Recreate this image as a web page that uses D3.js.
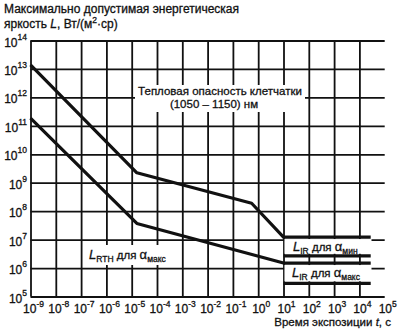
<!DOCTYPE html>
<html><head><meta charset="utf-8">
<script src="https://cdn.jsdelivr.net/npm/d3@7"></script>
<style>
html,body{margin:0;padding:0;background:#fff;}
svg{display:block;font-family:"Liberation Sans",Arial,sans-serif;}
svg text{stroke:#111;stroke-width:0.3px;}
</style></head>
<body><svg id="c" width="400" height="330"></svg>
<script>
// ---- data ----
const xTickExps = [-9,-8,-7,-6,-5,-4,-3,-2,-1,0,1,2,3,4,5];
const yTickExps = [5,6,7,8,9,10,11,12,13,14];
// Retinal thermal hazard (1050-1150 nm), upper curve
const upperT = [1e-9, 1.6e-5, 0.55, 10, 2.8e4];
const upperL = [1.38e13, 2.24e9, 1.9e8, 1.23e7, 1.23e7];
// L_RTH for alpha_max, lower curve
const lowerT = [1e-9, 1.6e-5, 10, 2.8e4];
const lowerL = [1.86e11, 3.7e7, 1.5e6, 1.5e6];
// L_IR bracket lines
const bracketT = [10, 2.8e4];
const bracketL = [2.7e6, 2.9e5];

const svg = d3.select("#c");
const x = d3.scaleLog().domain([1e-9, 1e5]).range([30.5, 384.7]);
const y = d3.scaleLog().domain([1e5, 1e14]).range([296.5, 40.5]);
const ink = "#111";

// grid via axes
const gx = svg.append("g").attr("transform", `translate(0,${y(1e5)})`)
  .call(d3.axisBottom(x).tickValues(xTickExps.filter(e => e < 5).map(e => Math.pow(10, e)))
    .tickFormat("").tickSize(-(y(1e5) - y(1e14))).tickSizeOuter(0));
const gy = svg.append("g").attr("transform", `translate(${x(1e-9)},0)`)
  .call(d3.axisLeft(y).tickValues(yTickExps.map(e => Math.pow(10, e)))
    .tickFormat("").tickSize(-(x(1e5) - x(1e-9))).tickSizeOuter(0));
[gx, gy].forEach(g => {
  g.selectAll("line").attr("stroke", ink).attr("stroke-width", 1.8);
  g.select(".domain").remove();
});

// white label boxes
const boxes = [
  [135, 85, 170, 27],
  [85, 245, 90, 20],
  [x(10) + 1, y(1.23e7) + 2, 87, y(2.7e6) - y(1.23e7) - 4],
  [x(10) + 1, y(1.5e6) + 2, 87, y(2.9e5) - y(1.5e6) - 4]
];
svg.selectAll("rect.box").data(boxes).join("rect").attr("class", "box")
  .attr("x", d => d[0]).attr("y", d => d[1]).attr("width", d => d[2]).attr("height", d => d[3])
  .attr("fill", "#fff");

// data lines
const line = d3.line().x(d => x(d[0])).y(d => y(d[1]));
const series = [
  d3.zip(upperT, upperL),
  d3.zip(lowerT, lowerL),
  [[bracketT[0], bracketL[0]], [bracketT[1], bracketL[0]]],
  [[bracketT[0], bracketL[1]], [bracketT[1], bracketL[1]]]
];
svg.selectAll("path.s").data(series).join("path").attr("class", "s")
  .attr("d", line).attr("fill", "none").attr("stroke", ink).attr("stroke-width", 3.2)
  .attr("stroke-linejoin", "round");

// tick labels
const xl = svg.append("g");
xTickExps.forEach(e => {
  const t = xl.append("text").attr("x", x(Math.pow(10, e)) + 3).attr("y", 313)
    .attr("text-anchor", "middle").attr("font-size", 12).attr("fill", ink);
  t.append("tspan").text("10");
  t.append("tspan").attr("font-size", 8.5).attr("dy", -6).text(e < 0 ? "-" + (-e) : e);
});
const yl = svg.append("g");
yTickExps.forEach(e => {
  const t = yl.append("text").attr("x", 27).attr("y", y(Math.pow(10, e)) + 6)
    .attr("text-anchor", "end").attr("font-size", 12).attr("fill", ink);
  t.append("tspan").text("10");
  t.append("tspan").attr("font-size", 8.5).attr("dy", -7).text(e);
});

// axis titles
const yt = svg.append("g").attr("font-size", 12).attr("fill", ink);
yt.append("text").attr("x", 4).attr("y", 13).text("Максимально допустимая энергетическая");
const yt2 = yt.append("text").attr("x", 4).attr("y", 28);
yt2.append("tspan").text("яркость ");
yt2.append("tspan").attr("font-style", "italic").text("L");
yt2.append("tspan").text(", Вт/(м");
yt2.append("tspan").attr("font-size", 8.5).attr("dy", -5).text("2");
yt2.append("tspan").attr("dy", 5).text("·ср)");

const xt = svg.append("text").attr("x", 391).attr("y", 326).attr("text-anchor", "end")
  .attr("font-size", 11.5).attr("fill", ink);
xt.append("tspan").text("Время экспозиции ");
xt.append("tspan").attr("font-style", "italic").text("t");
xt.append("tspan").text(", с");

// annotations
const ann = svg.append("g").attr("font-size", 11.5).attr("fill", ink).attr("text-anchor", "middle");
ann.append("text").attr("x", 220).attr("y", y(1e12) - 2).text("Тепловая опасность клетчатки");
ann.append("text").attr("x", 214).attr("y", y(1e12) + 11).text("(1050 – 1150) нм");

function lab(xp, yp, sub, asub) {
  const t = svg.append("text").attr("x", xp).attr("y", yp).attr("font-size", 11.5).attr("fill", ink);
  t.append("tspan").attr("font-style", "italic").attr("font-size", 13).text("L");
  t.append("tspan").attr("font-size", 8.5).attr("dy", 3).text(sub);
  t.append("tspan").attr("dy", -3).text(" для ");
  t.append("tspan").attr("font-size", 13).text("α");
  t.append("tspan").attr("font-size", 8.5).attr("dy", 3).text(asub);
}
lab(89, 259, "RTH", "макс");
lab(293, 251, "IR", "мин");
lab(292, 277, "IR", "макс");
</script></body></html>
